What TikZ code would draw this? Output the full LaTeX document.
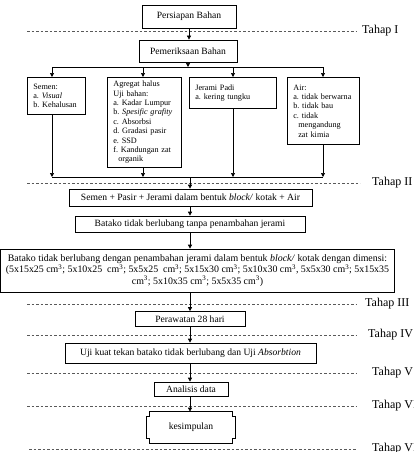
\documentclass[tikz,border=0pt]{standalone}
\usepackage{fontspec}
\setmainfont{Liberation Serif}
\usetikzlibrary{arrows.meta,calc}
\frenchspacing
\begin{document}
\begin{tikzpicture}[x=1pt,y=-1pt,
 box/.style={draw,line width=0.7pt,inner sep=0pt,font=\fontsize{9.6}{11.5}\selectfont,align=center},
 lbox/.style={draw,line width=0.7pt,anchor=north west,inner xsep=6pt,inner ysep=0pt,font=\fontsize{8.2}{9.4}\selectfont,align=left},
 arr/.style={line width=0.7pt,-{Triangle[length=4pt,width=4pt]}},
 ln/.style={line width=0.7pt},
 sep/.style={line width=0.6pt,gray!70!black,dash pattern=on 2.5pt off 2pt},
 tahap/.style={anchor=west,inner sep=0pt,font=\fontsize{12}{14}\selectfont}]
\useasboundingbox (0,0) rectangle (414,452);

% main boxes
\node[box,minimum width=94pt,minimum height=23pt] (p1) at (189,16.5) {Persiapan Bahan};
\node[box,minimum width=98pt,minimum height=22pt] (p2) at (188,51) {Pemeriksaan Bahan};

\node[lbox,text width=46pt,minimum height=37pt] (semen) at (27,77)
 {Semen:\\a. \textit{Visual}\\b. Kehalusan};
\node[lbox,text width=62pt,minimum height=90pt] (agg) at (107,77)
 {Agregat halus\\Uji bahan:\\a. Kadar Lumpur\\b. \textit{Spesific grafity}\\c. Absorbsi\\d. Gradasi pasir\\e. SSD\\f. Kandungan zat\\\hspace*{5pt}organik};
\node[lbox,text width=75pt,minimum height=31pt] (jer) at (189,77)
 {Jerami Padi\\a. kering tungku};
\node[lbox,text width=60pt,minimum height=67pt] (air) at (287,77)
 {Air:\\a. tidak berwarna\\b. tidak bau\\c. tidak\\\hspace*{5pt}mengandung\\\hspace*{5pt}zat kimia};

\node[box,minimum width=243pt,minimum height=17pt] (mix) at (190.5,197.5)
 {Semen + Pasir + Jerami dalam bentuk \textit{block/} kotak + Air};
\node[box,minimum width=230pt,minimum height=16pt] (tanpa) at (190,224)
 {Batako tidak berlubang tanpa penambahan jerami};
\node[box,minimum width=394pt,minimum height=43pt,font=\fontsize{9.9}{11.5}\selectfont] (big) at (197.5,270.5)
 {Batako tidak berlubang dengan penambahan jerami dalam bentuk \textit{block/} kotak dengan dimensi:\\
 (5x15x25 cm\textsuperscript{3}; 5x10x25~ cm\textsuperscript{3}; 5x5x25~ cm\textsuperscript{3}; 5x15x30 cm\textsuperscript{3}; 5x10x30 cm\textsuperscript{3}, 5x5x30 cm\textsuperscript{3}; 5x15x35\\
 cm\textsuperscript{3}; 5x10x35 cm\textsuperscript{3}; 5x5x35 cm\textsuperscript{3})};
\node[box,minimum width=110pt,minimum height=15pt] (rawat) at (190,319)
 {Perawatan 28 hari};
\node[box,minimum width=251pt,minimum height=20pt] (uji) at (190.5,353)
 {Uji kuat tekan batako tidak berlubang dan Uji \textit{Absorbtion}};
\node[box,minimum width=74pt,minimum height=14pt] (ana) at (191,389)
 {Analisis data};
\node[box,draw=none,minimum width=88pt,minimum height=31pt] (kes) at (191,427.5)
 {kesimpulan};
\draw[ln] ($(kes.north west)+(3,0)$) -- ($(kes.north east)+(-3,0)$) -- ++(0,5) -- ++(3,0)
 -- ($(kes.south east)+(0,-5)$) -- ++(-3,0) -- ++(0,5) -- ($(kes.south west)+(3,0)$)
 -- ++(0,-5) -- ++(-3,0) -- ($(kes.north west)+(0,5)$) -- ++(3,0) -- cycle;

% stage labels and separators
\node[tahap] (t1) at (362,31) {Tahap I};
\node[tahap] (t2) at (372,183) {Tahap II};
\node[tahap] (t3) at (365,304) {Tahap III};
\node[tahap] (t4) at (368,335) {Tahap IV};
\node[tahap] (t5) at (372,373) {Tahap V};
\node[tahap] (t6) at (372,406) {Tahap VI};
\node[tahap] (t7) at (372,449) {Tahap VII};
\coordinate (s1) at (27,31);
\coordinate (s2) at (27,183);
\coordinate (s3) at (27,304);
\coordinate (s4) at (27,335);
\coordinate (s5) at (27,373);
\coordinate (s6) at (27,406);
\coordinate (s7) at (29,449);
\draw[sep] (s1) -- (357,31);
\draw[sep] (s2) -- (360,183);
\draw[sep] (s3) -- (357,304);
\draw[sep] (s4) -- (357,335);
\draw[sep] (s5) -- (357,373);
\draw[sep] (s6) -- (357,406);
\draw[sep] (s7) -- (357,449);

% connectors
\coordinate (c1) at (52,67);
\coordinate (c2) at (143,67);
\coordinate (c3) at (233,67);
\coordinate (c4) at (323,67);
\coordinate (j1) at (52,177);
\coordinate (j4) at (323,177);
\coordinate (jm) at (190,177);

\draw[arr] (p1.south) -- (p1.south |- p2.north);
\draw[arr] (p2.south) -- (p2.south |- c1);
\draw[ln] (c1) -- (c4);
\draw[arr] (c1) -- (c1 |- semen.north);
\draw[arr] (c2) -- (c2 |- agg.north);
\draw[arr] (c3) -- (c3 |- jer.north);
\draw[arr] (c4) -- (c4 |- air.north);
\draw[arr] (c1 |- semen.south) -- (j1);
\draw[arr] (c2 |- agg.south) -- (c2 |- j1);
\draw[arr] (c3 |- jer.south) -- (c3 |- j1);
\draw[arr] (c4 |- air.south) -- (j4);
\draw[ln] (j1) -- (j4);
\draw[arr] (jm) -- (jm |- mix.north);
\draw[arr] (jm |- mix.south) -- (jm |- tanpa.north);
\draw[arr] (jm |- tanpa.south) -- (jm |- big.north);
\draw[arr] (jm |- big.south) -- (jm |- rawat.north);
\draw[arr] (jm |- rawat.south) -- (jm |- uji.north);
\draw[arr] (jm |- uji.south) -- (jm |- ana.north);
\draw[arr] (jm |- ana.south) -- (jm |- kes.north);
\end{tikzpicture}
\end{document}
